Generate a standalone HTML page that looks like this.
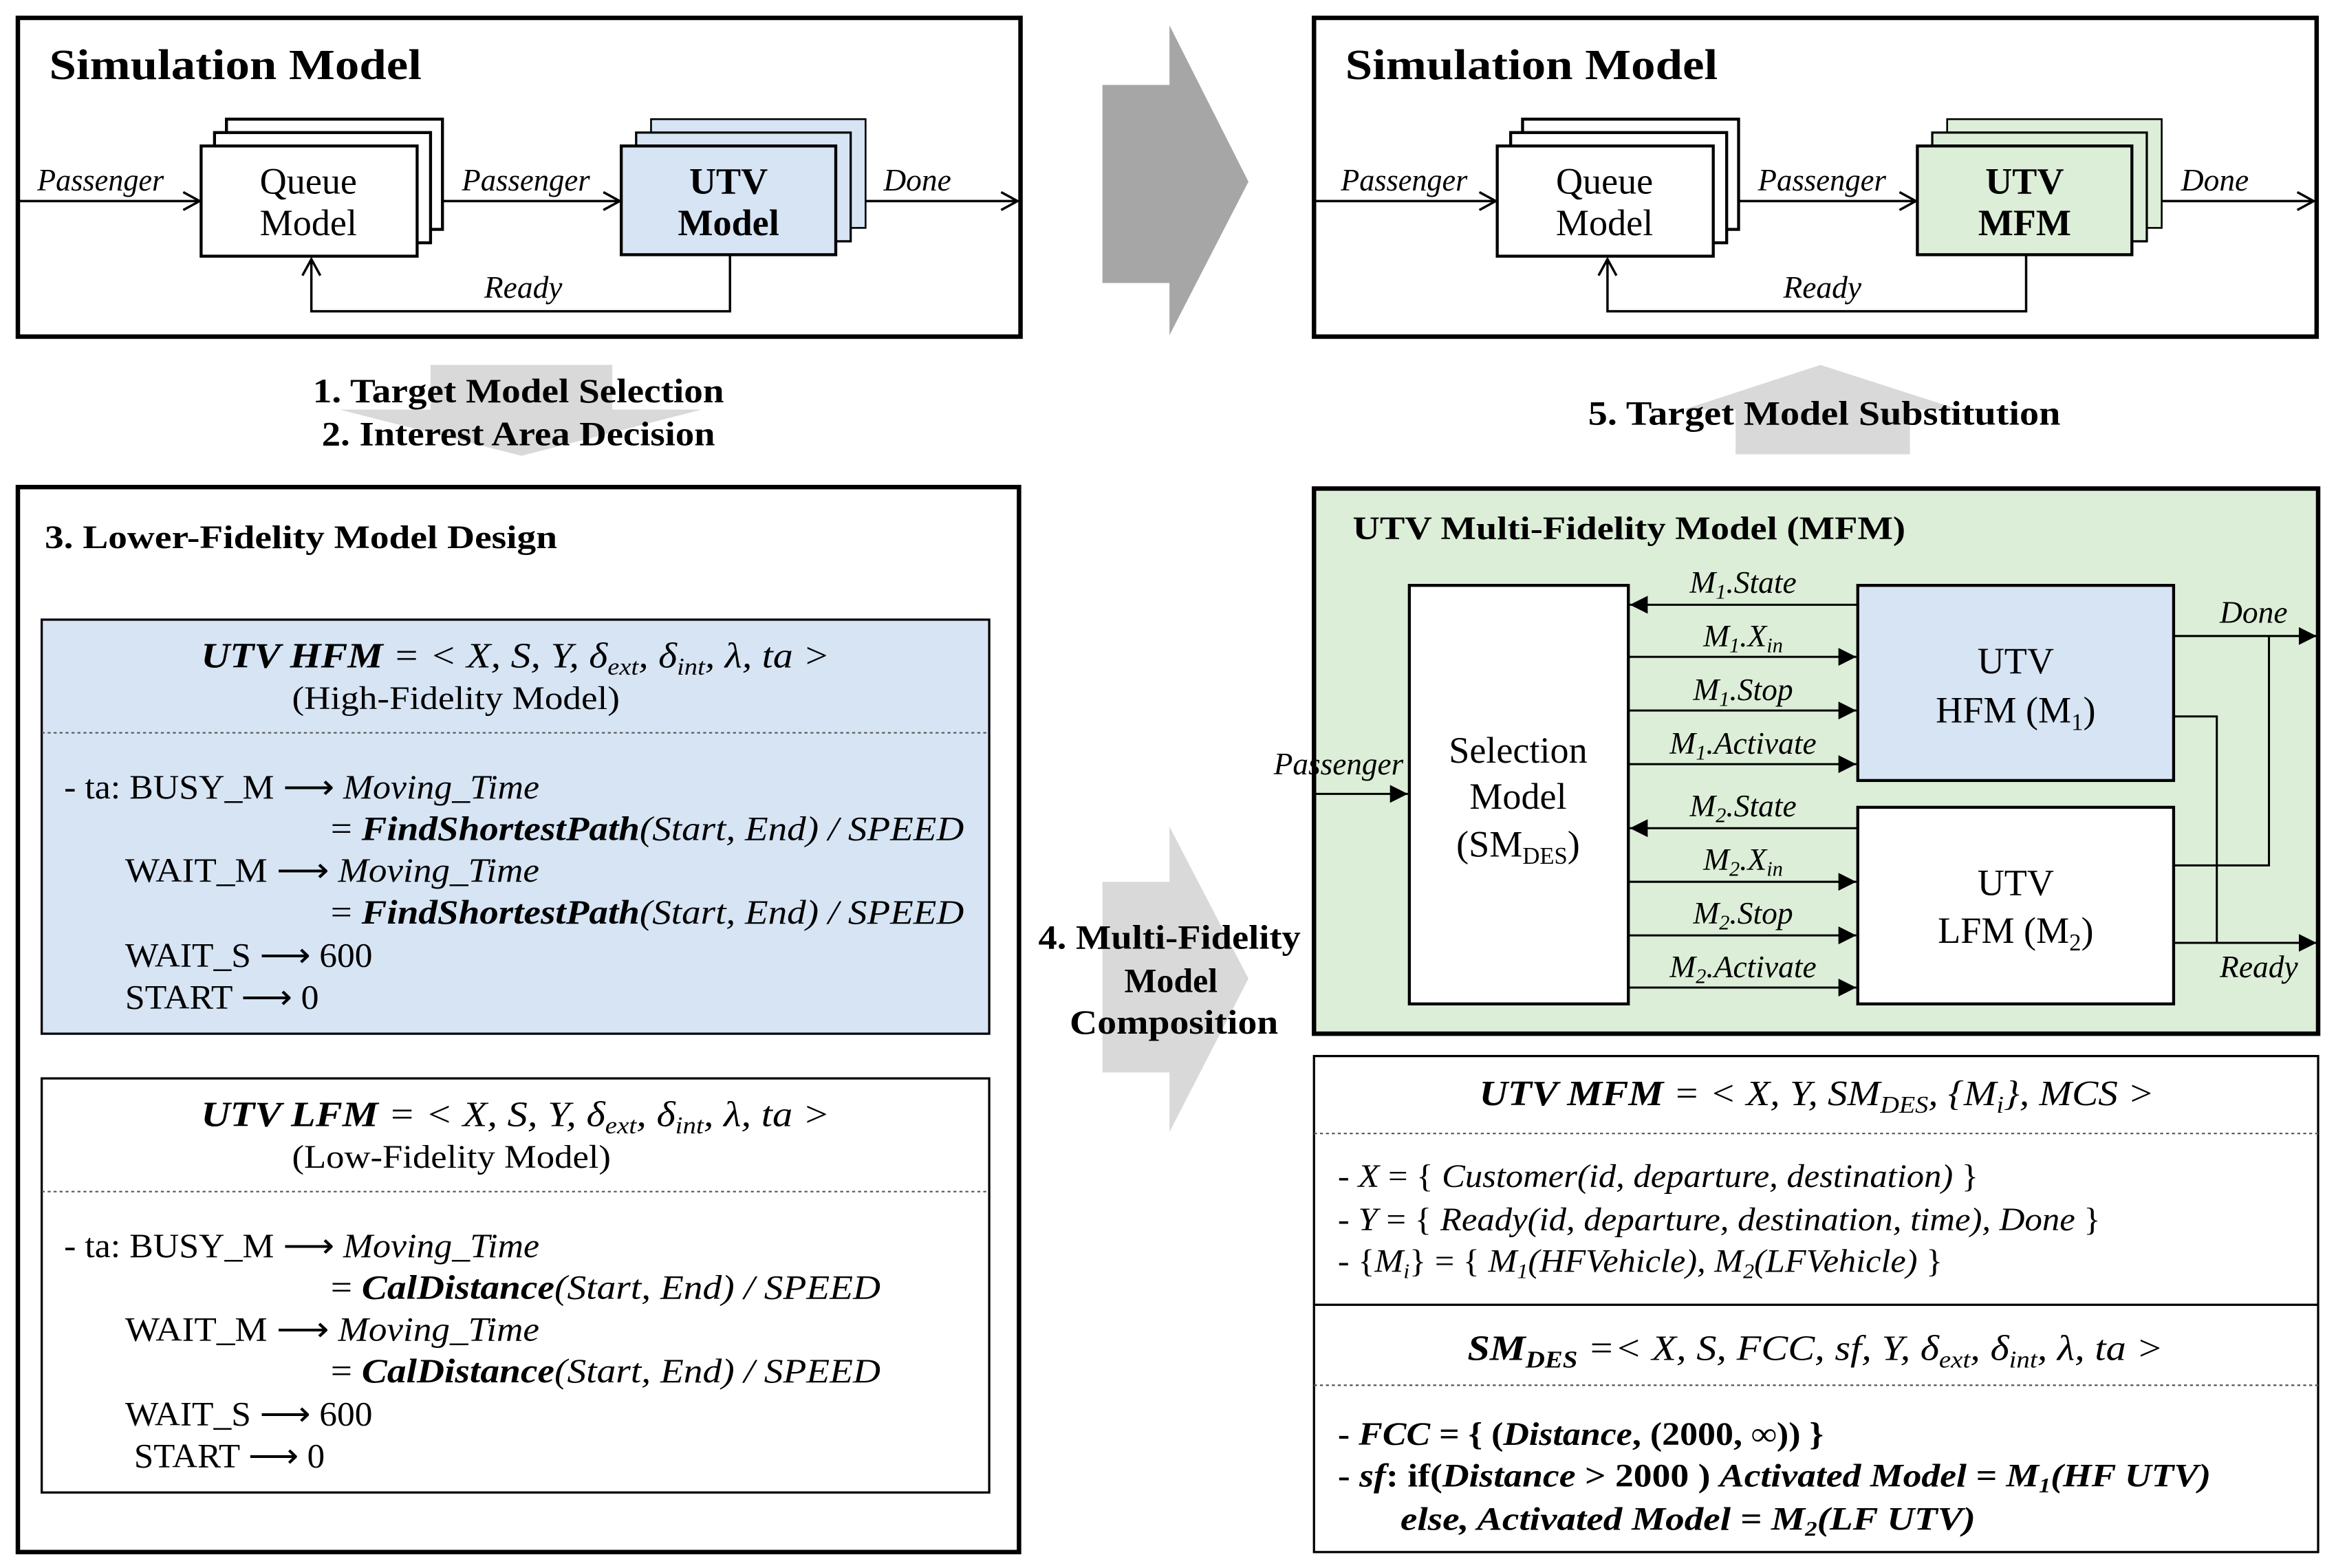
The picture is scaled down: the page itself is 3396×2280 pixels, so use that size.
<!DOCTYPE html>
<html><head><meta charset="utf-8"><style>
html,body{margin:0;padding:0;background:#fff}
svg{display:block}
text{font-family:"Liberation Serif",serif;fill:#000}
.i{font-style:italic}.b{font-weight:bold}
</style></head><body>
<svg width="3396" height="2280" viewBox="0 0 1568 1052.7" preserveAspectRatio="none" xmlns="http://www.w3.org/2000/svg">
<defs>
<marker id="o" markerWidth="14" markerHeight="14" refX="12" refY="7" orient="auto" markerUnits="userSpaceOnUse"><path d="M1,1 L12,7 L1,13" fill="none" stroke="#000" stroke-width="1.6"/></marker>
<marker id="f" markerWidth="14" markerHeight="14" refX="12" refY="7" orient="auto" markerUnits="userSpaceOnUse"><path d="M0,1 L12,7 L0,13 Z" fill="#000"/></marker>
</defs>
<rect width="1568" height="1052.7" fill="#fff"/>

<polygon points="740,57 785,57 785,17 838,122 785,225 785,190 740,190" fill="#a6a6a6"/>
<polygon points="289,245 411,245 411,275 471,275 350,306 228,275 289,275" fill="#d9d9d9"/>
<polygon points="1222,245 1315,275 1282,275 1282,305 1165,305 1165,275 1130,275" fill="#d9d9d9"/>
<polygon points="740,592 785,592 785,555 838,657 785,760 785,720 740,720" fill="#d9d9d9"/>

<g font-size="23" class="b" lengthAdjust="spacingAndGlyphs">
<text x="210" y="270" textLength="276" lengthAdjust="spacingAndGlyphs">1. Target Model Selection</text>
<text x="216" y="299" textLength="264" lengthAdjust="spacingAndGlyphs">2. Interest Area Decision</text>
<text x="1066" y="285" textLength="317" lengthAdjust="spacingAndGlyphs">5. Target Model  Substitution</text>
<text x="697" y="637" textLength="176" lengthAdjust="spacingAndGlyphs">4. Multi-Fidelity</text>
<text x="786" y="666" text-anchor="middle">Model</text>
<text x="718" y="694" textLength="140" lengthAdjust="spacingAndGlyphs">Composition</text>
</g>

<g id="sim">
<rect x="12" y="12" width="673" height="214" fill="#fff" stroke="#000" stroke-width="3"/>
<text x="33" y="53" font-size="29" class="b" textLength="250" lengthAdjust="spacingAndGlyphs">Simulation Model</text>
<rect x="152" y="80" width="145" height="74" fill="#fff" stroke="#000" stroke-width="2"/>
<rect x="144" y="89" width="145" height="74" fill="#fff" stroke="#000" stroke-width="2"/>
<rect x="135" y="98" width="145" height="74" fill="#fff" stroke="#000" stroke-width="2"/>
<text x="207" y="130" font-size="25" text-anchor="middle">Queue</text>
<text x="207" y="158" font-size="25" text-anchor="middle">Model</text>
<line x1="12" y1="135" x2="134" y2="135" stroke="#000" stroke-width="1.6" marker-end="url(#o)"/>
<line x1="297" y1="135" x2="416" y2="135" stroke="#000" stroke-width="1.6" marker-end="url(#o)"/>
<line x1="581" y1="135" x2="683" y2="135" stroke="#000" stroke-width="1.6" marker-end="url(#o)"/>
<polyline points="490,172 490,209 209,209 209,174" fill="none" stroke="#000" stroke-width="1.6" marker-end="url(#o)"/>
<text x="25" y="128" font-size="21" class="i" textLength="85" lengthAdjust="spacingAndGlyphs">Passenger</text>
<text x="310" y="128" font-size="21" class="i" textLength="86" lengthAdjust="spacingAndGlyphs">Passenger</text>
<text x="593" y="128" font-size="21" class="i">Done</text>
<text x="325" y="200" font-size="21" class="i">Ready</text>
</g>
<rect x="437" y="80" width="144" height="73" fill="#d6e4f4" stroke="#000" stroke-width="1.2"/>
<rect x="427" y="89" width="144" height="73" fill="#d6e4f4" stroke="#000" stroke-width="1.5"/>
<rect x="417" y="98" width="144" height="73" fill="#d6e4f4" stroke="#000" stroke-width="2"/>
<text x="489" y="130" font-size="25" class="b" text-anchor="middle">UTV</text>
<text x="489" y="158" font-size="25" class="b" text-anchor="middle">Model</text>

<g transform="translate(870,0)">
<rect x="12" y="12" width="673" height="214" fill="#fff" stroke="#000" stroke-width="3"/>
<text x="33" y="53" font-size="29" class="b" textLength="250" lengthAdjust="spacingAndGlyphs">Simulation Model</text>
<rect x="152" y="80" width="145" height="74" fill="#fff" stroke="#000" stroke-width="2"/>
<rect x="144" y="89" width="145" height="74" fill="#fff" stroke="#000" stroke-width="2"/>
<rect x="135" y="98" width="145" height="74" fill="#fff" stroke="#000" stroke-width="2"/>
<text x="207" y="130" font-size="25" text-anchor="middle">Queue</text>
<text x="207" y="158" font-size="25" text-anchor="middle">Model</text>
<line x1="12" y1="135" x2="134" y2="135" stroke="#000" stroke-width="1.6" marker-end="url(#o)"/>
<line x1="297" y1="135" x2="416" y2="135" stroke="#000" stroke-width="1.6" marker-end="url(#o)"/>
<line x1="581" y1="135" x2="683" y2="135" stroke="#000" stroke-width="1.6" marker-end="url(#o)"/>
<polyline points="490,172 490,209 209,209 209,174" fill="none" stroke="#000" stroke-width="1.6" marker-end="url(#o)"/>
<text x="30" y="128" font-size="21" class="i" textLength="85" lengthAdjust="spacingAndGlyphs">Passenger</text>
<text x="310" y="128" font-size="21" class="i" textLength="86" lengthAdjust="spacingAndGlyphs">Passenger</text>
<text x="594" y="128" font-size="21" class="i">Done</text>
<text x="327" y="200" font-size="21" class="i">Ready</text>
<rect x="437" y="80" width="144" height="73" fill="#ddeed8" stroke="#000" stroke-width="1.2"/>
<rect x="427" y="89" width="144" height="73" fill="#ddeed8" stroke="#000" stroke-width="1.5"/>
<rect x="417" y="98" width="144" height="73" fill="#ddeed8" stroke="#000" stroke-width="2"/>
<text x="489" y="130" font-size="25" class="b" text-anchor="middle">UTV</text>
<text x="489" y="158" font-size="25" class="b" text-anchor="middle">MFM</text>
</g>

<rect x="12" y="327" width="672" height="715" fill="#fff" stroke="#000" stroke-width="3"/>
<text x="30" y="368" font-size="22" class="b" textLength="344" lengthAdjust="spacingAndGlyphs">3. Lower-Fidelity Model Design</text>

<rect x="28" y="416" width="636" height="278" fill="#d6e4f4" stroke="#000" stroke-width="1.5"/>
<text x="135" y="448" font-size="24" textLength="422" lengthAdjust="spacingAndGlyphs"><tspan class="b i">UTV HFM</tspan><tspan class="i"> = &lt; X, S, Y, δ</tspan><tspan class="i" font-size="16" dy="5">ext</tspan><tspan class="i" dy="-5">, δ</tspan><tspan class="i" font-size="16" dy="5">int</tspan><tspan class="i" dy="-5">, λ, ta &gt;</tspan></text>
<text x="196" y="476" font-size="22" textLength="220" lengthAdjust="spacingAndGlyphs">(High-Fidelity Model)</text>
<line x1="28" y1="492" x2="664" y2="492" stroke="#555" stroke-width="1" stroke-dasharray="2,2"/>
<g font-size="23">
<text x="43" y="536" textLength="319" lengthAdjust="spacingAndGlyphs">- ta: BUSY_M ⟶ <tspan class="i">Moving_Time</tspan></text>
<text x="222" y="564" textLength="425" lengthAdjust="spacingAndGlyphs">= <tspan class="b i">FindShortestPath</tspan><tspan class="i">(Start, End) / SPEED</tspan></text>
<text x="84" y="592" textLength="278" lengthAdjust="spacingAndGlyphs">WAIT_M ⟶ <tspan class="i">Moving_Time</tspan></text>
<text x="222" y="620" textLength="425" lengthAdjust="spacingAndGlyphs">= <tspan class="b i">FindShortestPath</tspan><tspan class="i">(Start, End) / SPEED</tspan></text>
<text x="84" y="649" textLength="166" lengthAdjust="spacingAndGlyphs">WAIT_S ⟶ 600</text>
<text x="84" y="677" textLength="130" lengthAdjust="spacingAndGlyphs">START ⟶ 0</text>
</g>

<rect x="28" y="724" width="636" height="278" fill="#fff" stroke="#000" stroke-width="1.5"/>
<text x="135" y="756" font-size="24" textLength="422" lengthAdjust="spacingAndGlyphs"><tspan class="b i">UTV LFM</tspan><tspan class="i"> = &lt; X, S, Y, δ</tspan><tspan class="i" font-size="16" dy="5">ext</tspan><tspan class="i" dy="-5">, δ</tspan><tspan class="i" font-size="16" dy="5">int</tspan><tspan class="i" dy="-5">, λ, ta &gt;</tspan></text>
<text x="196" y="784" font-size="22" textLength="214" lengthAdjust="spacingAndGlyphs">(Low-Fidelity Model)</text>
<line x1="28" y1="800" x2="664" y2="800" stroke="#555" stroke-width="1" stroke-dasharray="2,2"/>
<g font-size="23">
<text x="43" y="844" textLength="319" lengthAdjust="spacingAndGlyphs">- ta: BUSY_M ⟶ <tspan class="i">Moving_Time</tspan></text>
<text x="222" y="872" textLength="369" lengthAdjust="spacingAndGlyphs">= <tspan class="b i">CalDistance</tspan><tspan class="i">(Start, End) / SPEED</tspan></text>
<text x="84" y="900" textLength="278" lengthAdjust="spacingAndGlyphs">WAIT_M ⟶ <tspan class="i">Moving_Time</tspan></text>
<text x="222" y="928" textLength="369" lengthAdjust="spacingAndGlyphs">= <tspan class="b i">CalDistance</tspan><tspan class="i">(Start, End) / SPEED</tspan></text>
<text x="84" y="957" textLength="166" lengthAdjust="spacingAndGlyphs">WAIT_S ⟶ 600</text>
<text x="90" y="985" textLength="128" lengthAdjust="spacingAndGlyphs">START ⟶ 0</text>
</g>

<rect x="882" y="328" width="674" height="366" fill="#ddeed8" stroke="#000" stroke-width="3"/>
<text x="908" y="362" font-size="22" class="b" textLength="371" lengthAdjust="spacingAndGlyphs">UTV Multi-Fidelity Model (MFM)</text>
<rect x="946" y="393" width="147" height="281" fill="#fff" stroke="#000" stroke-width="2"/>
<text x="1019" y="512" font-size="25" text-anchor="middle">Selection</text>
<text x="1019" y="543" font-size="25" text-anchor="middle">Model</text>
<text x="1019" y="575" font-size="25" text-anchor="middle">(SM<tspan font-size="16" dy="5">DES</tspan><tspan dy="-5">)</tspan></text>
<rect x="1247" y="393" width="212" height="131" fill="#d6e4f4" stroke="#000" stroke-width="2"/>
<text x="1353" y="452" font-size="25" text-anchor="middle">UTV</text>
<text x="1353" y="485" font-size="25" text-anchor="middle">HFM (M<tspan font-size="16" dy="5">1</tspan><tspan dy="-5">)</tspan></text>
<rect x="1247" y="542" width="212" height="132" fill="#fff" stroke="#000" stroke-width="2"/>
<text x="1353" y="601" font-size="25" text-anchor="middle">UTV</text>
<text x="1353" y="633" font-size="25" text-anchor="middle">LFM (M<tspan font-size="16" dy="5">2</tspan><tspan dy="-5">)</tspan></text>
<g stroke="#000" stroke-width="1.4">
<line x1="1247" y1="406" x2="1094" y2="406" marker-end="url(#f)"/>
<line x1="1093" y1="441" x2="1246" y2="441" marker-end="url(#f)"/>
<line x1="1093" y1="477" x2="1246" y2="477" marker-end="url(#f)"/>
<line x1="1093" y1="513" x2="1246" y2="513" marker-end="url(#f)"/>
<line x1="1247" y1="556" x2="1094" y2="556" marker-end="url(#f)"/>
<line x1="1093" y1="592" x2="1246" y2="592" marker-end="url(#f)"/>
<line x1="1093" y1="628" x2="1246" y2="628" marker-end="url(#f)"/>
<line x1="1093" y1="663" x2="1246" y2="663" marker-end="url(#f)"/>
<line x1="882" y1="533" x2="945" y2="533" marker-end="url(#f)"/>
<line x1="1459" y1="427" x2="1555" y2="427" marker-end="url(#f)"/>
<polyline points="1459,581 1523,581 1523,427" fill="none"/>
<polyline points="1459,481 1488,481 1488,633" fill="none"/>
<line x1="1459" y1="633" x2="1555" y2="633" marker-end="url(#f)"/>
</g>
<g font-size="21" class="i" text-anchor="middle">
<text x="1170" y="398">M<tspan font-size="14" dy="4">1</tspan><tspan dy="-4">.State</tspan></text>
<text x="1170" y="434">M<tspan font-size="14" dy="4">1</tspan><tspan dy="-4">.X</tspan><tspan font-size="14" dy="4">in</tspan></text>
<text x="1170" y="470">M<tspan font-size="14" dy="4">1</tspan><tspan dy="-4">.Stop</tspan></text>
<text x="1170" y="506">M<tspan font-size="14" dy="4">1</tspan><tspan dy="-4">.Activate</tspan></text>
<text x="1170" y="548">M<tspan font-size="14" dy="4">2</tspan><tspan dy="-4">.State</tspan></text>
<text x="1170" y="584">M<tspan font-size="14" dy="4">2</tspan><tspan dy="-4">.X</tspan><tspan font-size="14" dy="4">in</tspan></text>
<text x="1170" y="620">M<tspan font-size="14" dy="4">2</tspan><tspan dy="-4">.Stop</tspan></text>
<text x="1170" y="656">M<tspan font-size="14" dy="4">2</tspan><tspan dy="-4">.Activate</tspan></text>
</g>
<text x="855" y="520" font-size="21" class="i" textLength="87" lengthAdjust="spacingAndGlyphs">Passenger</text>
<text x="1490" y="418" font-size="21" class="i">Done</text>
<text x="1490" y="656" font-size="21" class="i">Ready</text>

<rect x="882" y="709" width="674" height="333" fill="#fff" stroke="#000" stroke-width="1.5"/>
<text x="993" y="742" font-size="24" textLength="453" lengthAdjust="spacingAndGlyphs"><tspan class="b i">UTV MFM</tspan><tspan class="i"> = &lt; X, Y, SM</tspan><tspan class="i" font-size="16" dy="5">DES</tspan><tspan class="i" dy="-5">, {M</tspan><tspan class="i" font-size="16" dy="5">i</tspan><tspan class="i" dy="-5">}, MCS &gt;</tspan></text>
<line x1="882" y1="761" x2="1556" y2="761" stroke="#555" stroke-width="1" stroke-dasharray="2,2"/>
<g font-size="22">
<text x="898" y="797" textLength="430" lengthAdjust="spacingAndGlyphs">- <tspan class="i">X</tspan> = { <tspan class="i">Customer(id, departure, destination)</tspan> }</text>
<text x="898" y="826" textLength="512" lengthAdjust="spacingAndGlyphs">- <tspan class="i">Y</tspan> = { <tspan class="i">Ready(id, departure, destination, time), Done</tspan> }</text>
<text x="898" y="854" textLength="406" lengthAdjust="spacingAndGlyphs">- {<tspan class="i">M</tspan><tspan class="i" font-size="14" dy="4">i</tspan><tspan dy="-4">} = { </tspan><tspan class="i">M</tspan><tspan class="i" font-size="14" dy="4">1</tspan><tspan class="i" dy="-4">(HFVehicle), M</tspan><tspan class="i" font-size="14" dy="4">2</tspan><tspan class="i" dy="-4">(LFVehicle)</tspan> }</text>
</g>
<line x1="882" y1="876" x2="1556" y2="876" stroke="#000" stroke-width="1.5"/>
<text x="985" y="913" font-size="24" textLength="467" lengthAdjust="spacingAndGlyphs"><tspan class="b i">SM</tspan><tspan class="b i" font-size="16" dy="5">DES</tspan><tspan class="i" dy="-5"> =&lt; X, S, FCC, sf, Y, δ</tspan><tspan class="i" font-size="16" dy="5">ext</tspan><tspan class="i" dy="-5">, δ</tspan><tspan class="i" font-size="16" dy="5">int</tspan><tspan class="i" dy="-5">, λ, ta &gt;</tspan></text>
<line x1="882" y1="930" x2="1556" y2="930" stroke="#555" stroke-width="1" stroke-dasharray="2,2"/>
<g font-size="22" class="b">
<text x="898" y="970" textLength="326" lengthAdjust="spacingAndGlyphs">- <tspan class="i">FCC</tspan> = { (<tspan class="i">Distance</tspan>, (2000, ∞)) }</text>
<text x="898" y="998" textLength="586" lengthAdjust="spacingAndGlyphs">- <tspan class="i">sf</tspan>: if(<tspan class="i">Distance</tspan> &gt; 2000 ) <tspan class="i">Activated Model = M</tspan><tspan class="i" font-size="14" dy="4">1</tspan><tspan class="i" dy="-4">(HF UTV)</tspan></text>
<text x="940" y="1027" class="i" textLength="386" lengthAdjust="spacingAndGlyphs">else, Activated Model =  M<tspan font-size="14" dy="4">2</tspan><tspan dy="-4">(LF UTV)</tspan></text>
</g>
</svg>
</body></html>
